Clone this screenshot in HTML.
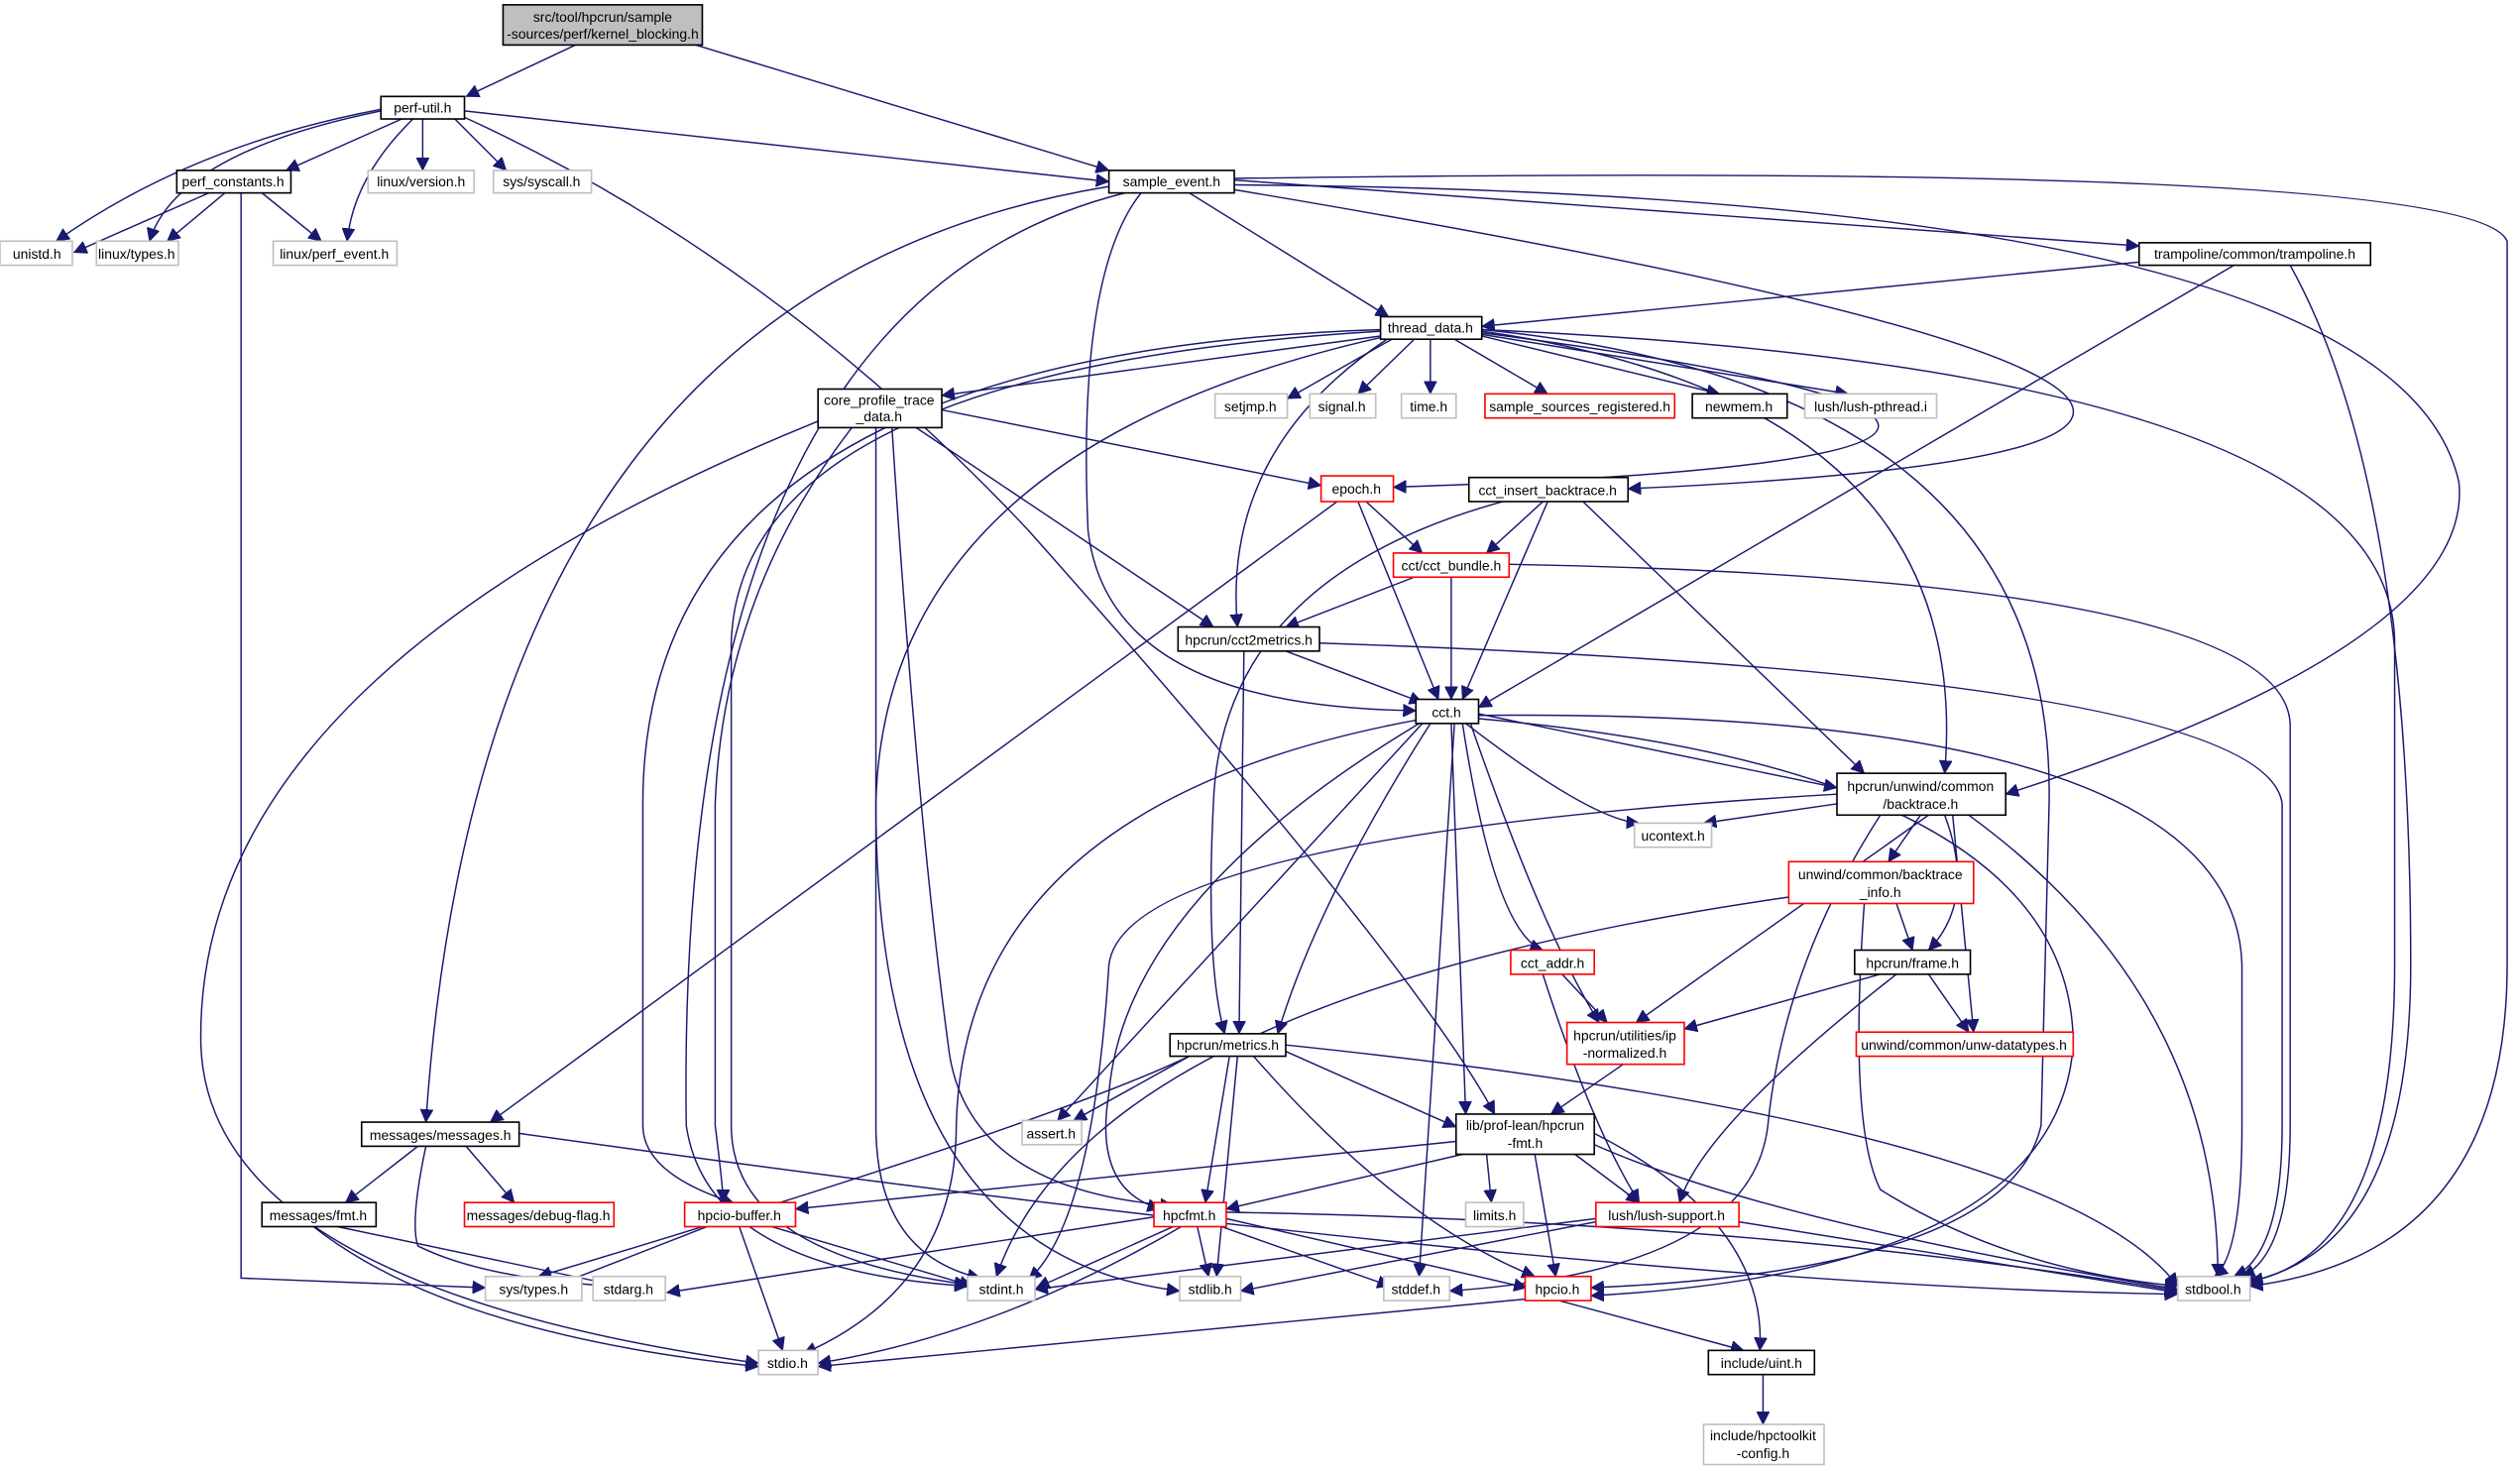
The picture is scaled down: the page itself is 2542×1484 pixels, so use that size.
<!DOCTYPE html>
<html><head><meta charset="utf-8"><style>
html,body{margin:0;padding:0;background:#fff;}
svg{display:block;}
text{font-family:"Liberation Sans Narrow","Liberation Sans",sans-serif;font-size:8.6px;fill:#000;text-anchor:middle;}
.e{fill:none;stroke:#191970;stroke-width:0.9;marker-end:url(#a);}
.b{fill:#fff;stroke:#000;stroke-width:1;}
.g{fill:#fff;stroke:#bfbfbf;stroke-width:1;}
.r{fill:#fff;stroke:#ff0000;stroke-width:1;}
</style></head><body>
<svg width="2542" height="1484" viewBox="0 0 1568 915" preserveAspectRatio="none" xmlns="http://www.w3.org/2000/svg">
<defs><marker id="a" markerUnits="userSpaceOnUse" markerWidth="9" markerHeight="8" refX="8" refY="4" orient="auto"><path d="M0,0L8,4L0,8z" fill="#191970" stroke="#191970" stroke-width="0.5"/></marker></defs>
<g>
<path class="e" d="M358,28L290,60"/>
<path class="e" d="M433,28L690,106"/>
<path class="e" d="M237,68Q120,90 35,150"/>
<path class="e" d="M237,69Q110,95 93,150"/>
<path class="e" d="M250,74L178,106"/>
<path class="e" d="M263,74L263,106"/>
<path class="e" d="M283,74L315,106"/>
<path class="e" d="M257,74Q220,110 216,150"/>
<path class="e" d="M289,69L690,113"/>
<path class="e" d="M289,73Q480,160 640,330Q880,600 930,693"/>
<path class="e" d="M130,120L46,157"/>
<path class="e" d="M140,120L104,150"/>
<path class="e" d="M163,120L200,150"/>
<path class="e" d="M150,120L150,795L302,801"/>
<path class="e" d="M690,116Q300,180 265,698"/>
<path class="e" d="M700,120Q420,190 427,700Q440,790 602,800"/>
<path class="e" d="M710,120Q670,170 677,330Q690,440 881,442"/>
<path class="e" d="M740,120L864,197"/>
<path class="e" d="M768,118C1200,190 1560,280 1013,304"/>
<path class="e" d="M768,112L1331,153"/>
<path class="e" d="M768,115Q1490,120 1530,300Q1540,400 1248,494"/>
<path class="e" d="M768,111Q1540,100 1560,150L1560,600Q1560,780 1400,800"/>
<path class="e" d="M1331,163L922,203"/>
<path class="e" d="M1390,165L920,440"/>
<path class="e" d="M1425,165Q1500,300 1500,600Q1500,780 1395,798"/>
<path class="e" d="M859,209L586,246"/>
<path class="e" d="M866,211L801,248"/>
<path class="e" d="M880,211L845,245"/>
<path class="e" d="M890,211L890,245"/>
<path class="e" d="M905,211L963,245"/>
<path class="e" d="M922,209L1070,245"/>
<path class="e" d="M922,208L1150,245"/>
<path class="e" d="M922,207C1250,250 1270,290 867,303"/>
<path class="e" d="M863,211Q760,280 770,390"/>
<path class="e" d="M922,206Q1230,250 1210,481"/>
<path class="e" d="M922,205Q1490,230 1490,400L1490,600Q1490,780 1400,797"/>
<path class="e" d="M922,205Q1280,240 1275,500L1270,700Q1250,790 990,801"/>
<path class="e" d="M859,210Q550,280 545,500Q545,780 734,803"/>
<path class="e" d="M859,206Q460,230 455,400L455,700Q455,780 602,799"/>
<path class="e" d="M859,205Q400,220 400,500L400,700Q400,730 456,748"/>
<path class="e" d="M586,255L822,302"/>
<path class="e" d="M570,266L755,390"/>
<path class="e" d="M509,262Q120,420 125,650Q130,800 472,848"/>
<path class="e" d="M530,266Q450,370 445,500L445,700Q450,740 450,748"/>
<path class="e" d="M545,266L545,700Q545,780 610,795"/>
<path class="e" d="M555,266Q570,500 590,650Q600,740 730,750"/>
<path class="e" d="M832,312L305,698"/>
<path class="e" d="M850,312L885,344"/>
<path class="e" d="M845,312L895,435"/>
<path class="e" d="M960,312L925,344"/>
<path class="e" d="M963,312L910,435"/>
<path class="e" d="M935,312Q760,360 755,500Q750,600 762,643"/>
<path class="e" d="M985,312L1160,481"/>
<path class="e" d="M880,359L800,390"/>
<path class="e" d="M903,359L903,435"/>
<path class="e" d="M939,351Q1420,360 1425,450L1425,700Q1425,780 1395,794"/>
<path class="e" d="M800,405L885,437"/>
<path class="e" d="M774,405L771,643"/>
<path class="e" d="M821,400Q1410,420 1420,500L1420,700Q1420,780 1390,794"/>
<path class="e" d="M920,444L1143,490"/>
<path class="e" d="M912,450Q990,510 1020,512"/>
<path class="e" d="M910,450Q930,580 960,591"/>
<path class="e" d="M915,450Q960,580 995,636"/>
<path class="e" d="M903,450L912,693"/>
<path class="e" d="M905,450L883,794"/>
<path class="e" d="M920,445Q1390,440 1395,600L1395,700Q1395,780 1378,794"/>
<path class="e" d="M920,447Q1290,480 1290,650Q1280,790 990,806"/>
<path class="e" d="M890,450Q820,560 795,643"/>
<path class="e" d="M885,450L658,697"/>
<path class="e" d="M881,448Q600,500 595,700Q595,800 500,842"/>
<path class="e" d="M883,450Q700,560 690,680Q680,740 722,752"/>
<path class="e" d="M1143,500L1060,512"/>
<path class="e" d="M1195,507L1175,536"/>
<path class="e" d="M1210,507Q1230,560 1200,591"/>
<path class="e" d="M1215,507L1228,642"/>
<path class="e" d="M1200,507L1018,636"/>
<path class="e" d="M1143,494Q700,520 690,600Q680,760 640,796"/>
<path class="e" d="M1170,507Q1110,600 1100,700Q1090,790 902,803"/>
<path class="e" d="M1225,507Q1380,620 1380,794"/>
<path class="e" d="M1180,562L1190,591"/>
<path class="e" d="M1113,558Q680,620 620,794"/>
<path class="e" d="M1160,562Q1150,700 1170,740Q1250,790 1355,800"/>
<path class="e" d="M972,606L1000,636"/>
<path class="e" d="M960,606Q990,700 1020,748"/>
<path class="e" d="M1170,606L1048,640"/>
<path class="e" d="M1200,606L1225,642"/>
<path class="e" d="M1180,606Q1060,700 1045,748"/>
<path class="e" d="M1010,662L965,693"/>
<path class="e" d="M740,657L668,697"/>
<path class="e" d="M800,654L906,701"/>
<path class="e" d="M765,657L750,748"/>
<path class="e" d="M770,657L757,794"/>
<path class="e" d="M780,657Q870,760 955,794"/>
<path class="e" d="M740,657Q650,700 335,794"/>
<path class="e" d="M800,650Q1280,700 1355,800"/>
<path class="e" d="M906,710L495,752"/>
<path class="e" d="M925,718L928,748"/>
<path class="e" d="M980,718L1020,748"/>
<path class="e" d="M910,718L763,752"/>
<path class="e" d="M955,718L968,794"/>
<path class="e" d="M992,712Q1100,760 1355,802"/>
<path class="e" d="M992,705Q1100,760 1095,840"/>
<path class="e" d="M260,713L215,748"/>
<path class="e" d="M290,713L320,748"/>
<path class="e" d="M265,713Q255,760 260,775Q300,795 380,800"/>
<path class="e" d="M323,705Q1000,800 1355,805"/>
<path class="e" d="M210,763L395,802"/>
<path class="e" d="M195,763Q280,830 472,850"/>
<path class="e" d="M440,763L345,800"/>
<path class="e" d="M460,763L487,840"/>
<path class="e" d="M480,763L605,800"/>
<path class="e" d="M718,757L415,804"/>
<path class="e" d="M730,763L645,801"/>
<path class="e" d="M745,763L752,794"/>
<path class="e" d="M760,763L865,800"/>
<path class="e" d="M763,758L950,801"/>
<path class="e" d="M763,754Q1100,760 1355,803"/>
<path class="e" d="M735,763Q620,830 509,848"/>
<path class="e" d="M993,758L644,802"/>
<path class="e" d="M993,760L772,803"/>
<path class="e" d="M1082,760L1355,804"/>
<path class="e" d="M950,808L509,850"/>
<path class="e" d="M970,809L1085,840"/>
<path class="e" d="M1097,855L1097,886"/>
</g>
<g>
<rect x="313" y="3" width="124" height="25" fill="#bfbfbf" stroke="#000"/>
<text x="375" y="13.5">src/tool/hpcrun/sample</text><text x="375" y="24">-sources/perf/kernel_blocking.h</text>
<rect class="b" x="237" y="60" width="52" height="14"/><text x="263" y="70">perf-util.h</text>
<rect class="b" x="690" y="106" width="78" height="14"/><text x="729" y="116">sample_event.h</text>
<rect class="b" x="110" y="106" width="71" height="14"/><text x="145" y="116">perf_constants.h</text>
<rect class="g" x="229" y="106" width="66" height="14"/><text x="262" y="116">linux/version.h</text>
<rect class="g" x="307" y="106" width="61" height="14"/><text x="337" y="116">sys/syscall.h</text>
<rect class="g" x="0" y="150" width="45" height="15"/><text x="23" y="161">unistd.h</text>
<rect class="g" x="60" y="150" width="51" height="15"/><text x="85" y="161">linux/types.h</text>
<rect class="g" x="170" y="150" width="77" height="15"/><text x="208" y="161">linux/perf_event.h</text>
<rect class="b" x="1331" y="151" width="144" height="14"/><text x="1403" y="161">trampoline/common/trampoline.h</text>
<rect class="b" x="859" y="197" width="63" height="14"/><text x="890" y="207">thread_data.h</text>
<rect class="b" x="509" y="242" width="77" height="24"/><text x="547" y="252">core_profile_trace</text><text x="547" y="262">_data.h</text>
<rect class="g" x="756" y="245" width="45" height="15"/><text x="778" y="256">setjmp.h</text>
<rect class="g" x="815" y="245" width="41" height="15"/><text x="835" y="256">signal.h</text>
<rect class="g" x="872" y="245" width="34" height="15"/><text x="889" y="256">time.h</text>
<rect class="r" x="924" y="245" width="118" height="15"/><text x="983" y="256">sample_sources_registered.h</text>
<rect class="b" x="1053" y="245" width="59" height="15"/><text x="1082" y="256">newmem.h</text>
<rect class="g" x="1123" y="245" width="82" height="15"/><text x="1164" y="256">lush/lush-pthread.i</text>
<rect class="r" x="822" y="296" width="45" height="16"/><text x="844" y="307">epoch.h</text>
<rect class="b" x="914" y="297" width="99" height="15"/><text x="963" y="308">cct_insert_backtrace.h</text>
<rect class="r" x="867" y="344" width="72" height="15"/><text x="903" y="355">cct/cct_bundle.h</text>
<rect class="b" x="733" y="390" width="88" height="15"/><text x="777" y="401">hpcrun/cct2metrics.h</text>
<rect class="b" x="881" y="435" width="39" height="15"/><text x="900" y="446">cct.h</text>
<rect class="b" x="1143" y="481" width="105" height="26"/><text x="1195" y="492">hpcrun/unwind/common</text><text x="1195" y="503">/backtrace.h</text>
<rect class="g" x="1017" y="512" width="48" height="15"/><text x="1041" y="523">ucontext.h</text>
<rect class="r" x="1113" y="536" width="115" height="26"/><text x="1170" y="547">unwind/common/backtrace</text><text x="1170" y="558">_info.h</text>
<rect class="r" x="940" y="591" width="52" height="15"/><text x="966" y="602">cct_addr.h</text>
<rect class="b" x="1154" y="591" width="72" height="15"/><text x="1190" y="602">hpcrun/frame.h</text>
<rect class="r" x="975" y="636" width="73" height="26"/><text x="1011" y="647">hpcrun/utilities/ip</text><text x="1011" y="658">-normalized.h</text>
<rect class="r" x="1155" y="642" width="135" height="15"/><text x="1222" y="653">unwind/common/unw-datatypes.h</text>
<rect class="b" x="728" y="643" width="72" height="14"/><text x="764" y="653">hpcrun/metrics.h</text>
<rect class="g" x="636" y="697" width="37" height="15"/><text x="654" y="708">assert.h</text>
<rect class="b" x="906" y="693" width="86" height="25"/><text x="949" y="703">lib/prof-lean/hpcrun</text><text x="949" y="714">-fmt.h</text>
<rect class="b" x="225" y="698" width="98" height="15"/><text x="274" y="709">messages/messages.h</text>
<rect class="b" x="163" y="748" width="71" height="15"/><text x="198" y="759">messages/fmt.h</text>
<rect class="r" x="289" y="748" width="93" height="15"/><text x="335" y="759">messages/debug-flag.h</text>
<rect class="r" x="426" y="748" width="69" height="15"/><text x="460" y="759">hpcio-buffer.h</text>
<rect class="r" x="718" y="748" width="45" height="15"/><text x="740" y="759">hpcfmt.h</text>
<rect class="g" x="912" y="748" width="36" height="15"/><text x="930" y="759">limits.h</text>
<rect class="r" x="993" y="748" width="89" height="15"/><text x="1037" y="759">lush/lush-support.h</text>
<rect class="g" x="302" y="794" width="60" height="15"/><text x="332" y="805">sys/types.h</text>
<rect class="g" x="369" y="794" width="45" height="15"/><text x="391" y="805">stdarg.h</text>
<rect class="g" x="602" y="794" width="42" height="15"/><text x="623" y="805">stdint.h</text>
<rect class="g" x="734" y="794" width="38" height="15"/><text x="753" y="805">stdlib.h</text>
<rect class="g" x="861" y="794" width="41" height="15"/><text x="881" y="805">stddef.h</text>
<rect class="r" x="949" y="794" width="41" height="15"/><text x="969" y="805">hpcio.h</text>
<rect class="g" x="1355" y="794" width="45" height="15"/><text x="1377" y="805">stdbool.h</text>
<rect class="g" x="472" y="840" width="37" height="15"/><text x="490" y="851">stdio.h</text>
<rect class="b" x="1063" y="840" width="66" height="15"/><text x="1096" y="851">include/uint.h</text>
<rect class="g" x="1060" y="886" width="75" height="25"/><text x="1097" y="896">include/hpctoolkit</text><text x="1097" y="907">-config.h</text>
</g>
</svg>
</body></html>
